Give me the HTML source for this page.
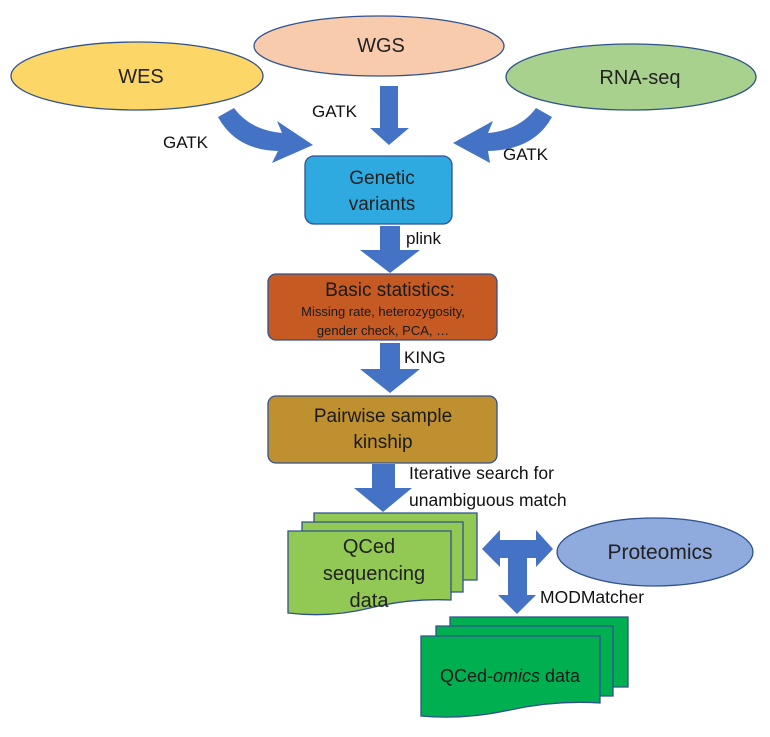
<!DOCTYPE html>
<html><head><meta charset="utf-8"><style>
body{margin:0;background:#fff}
svg{display:block;font-family:"Liberation Sans",Arial,sans-serif}
</style></head><body>
<svg width="770" height="737" viewBox="0 0 770 737">
<g stroke="#2F528F" stroke-width="1.3">
<ellipse cx="137" cy="76" rx="126" ry="34" fill="#FCD667"/>
<ellipse cx="379" cy="46" rx="125" ry="30" fill="#F8CBAD"/>
<ellipse cx="631" cy="77" rx="125" ry="33" fill="#A9D18E"/>
</g>
<g font-size="20" fill="#222" text-anchor="middle">
<text x="141" y="83">WES</text><text x="381" y="52">WGS</text><text x="640" y="84">RNA-seq</text>
</g>
<g fill="#4472C4">
<path d="M380 86 H398 V128 H409 L389 145 L370 128 H380 Z"/>
<path d="M218 117 L234 108 Q250 130 282 133 L277 121 L313 145 L272 163 L278 151 Q236 150 218 117 Z"/>
<path d="M552 117 L536 108 Q520 130 488 133 L493 121 L453 143 L490 163 L488 151 Q534 150 552 117 Z"/>
<path d="M380 226 H400 V250 H420 L390 273 L360 250 H380 Z"/>
<path d="M380 343 H400 V369 H420 L390 393 L360 369 H380 Z"/>
<path d="M372 464 H395 V488 H412 L383 512 L354 488 H372 Z"/>
<path d="M482 549 L500 530 V540 H536 V530 L553 549 L536 567 V558 H527 V595 H536 L517 614 L498 595 H508 V558 H500 V567 Z"/>
</g>
<g font-size="17" fill="#111">
<text x="163" y="148">GATK</text><text x="312" y="117">GATK</text><text x="503" y="160">GATK</text>
<text x="406" y="244">plink</text>
<text x="404" y="363">KING</text>
<text x="409" y="479" font-size="17.5">Iterative search for</text>
<text x="409" y="506" font-size="17.5">unambiguous match</text>
<text x="540" y="603" font-size="17.5">MODMatcher</text>
</g>
<rect x="305" y="156" width="147" height="68" rx="9" fill="#2EAAE1" stroke="#2F528F" stroke-width="1.3"/>
<g font-size="19" fill="#222" text-anchor="middle"><text x="382" y="184">Genetic</text><text x="382" y="210">variants</text></g>
<rect x="268" y="274" width="229" height="66" rx="8" fill="#C55A22" stroke="#2F528F" stroke-width="1.3"/>
<g fill="#1a1a1a" text-anchor="middle"><text x="390" y="296" font-size="19">Basic statistics:</text>
<text x="383" y="316" font-size="13">Missing rate, heterozygosity,</text>
<text x="383" y="335" font-size="13">gender check, PCA, …</text></g>
<rect x="268" y="396" width="229" height="67" rx="8" fill="#BF9030" stroke="#2F528F" stroke-width="1.3"/>
<g font-size="19" fill="#1a1a1a" text-anchor="middle"><text x="383" y="422">Pairwise sample</text><text x="383" y="448">kinship</text></g>
<g fill="#92C854" stroke="#2F528F" stroke-width="1.3">
<path d="M314 513 H477 V580 H314 Z"/>
<path d="M302 522 H463 V592 H302 Z"/>
<path d="M288 531 H451 V600 Q410 598 370 608 Q330 618 288 613 Z"/>
</g>
<g font-size="20" fill="#222" text-anchor="middle"><text x="369" y="553">QCed</text><text x="374" y="580">sequencing</text><text x="369" y="607">data</text></g>
<ellipse cx="655" cy="552" rx="98" ry="34" fill="#8FAADC" stroke="#2F528F" stroke-width="1.3"/>
<text x="660" y="559" font-size="21" fill="#222" text-anchor="middle">Proteomics</text>
<g fill="#00B050" stroke="#2F528F" stroke-width="1.3">
<path d="M450 617 H628 V687 H450 Z"/>
<path d="M436 626 H613 V696 H436 Z"/>
<path d="M421 636 H600 V703 Q555 700 510 710 Q465 720 421 716 Z"/>
</g>
<text x="440" y="682" font-size="18" fill="#1a1a1a">QCed-<tspan font-style="italic">omics</tspan> data</text>
</svg>
</body></html>
